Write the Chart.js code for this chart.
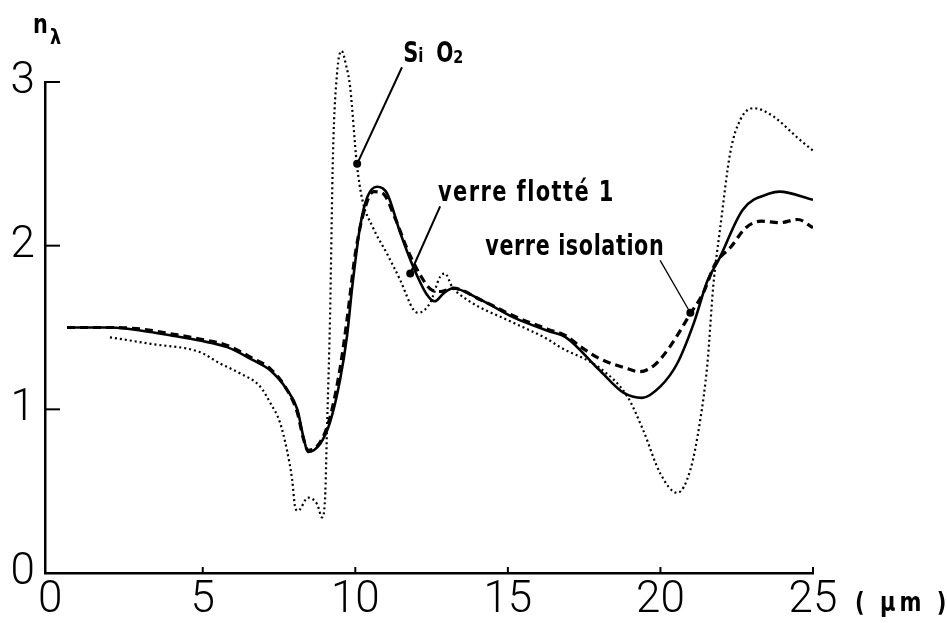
<!DOCTYPE html>
<html>
<head>
<meta charset="utf-8">
<script src="https://cdn.jsdelivr.net/npm/chart.js@4.4.1/dist/chart.umd.min.js"></script>
<style>
  html, body { margin: 0; padding: 0; background: #fff; }
  #wrap { width: 947px; height: 623px; }
</style>
</head>
<body>
<div id="wrap"><canvas id="c" width="947" height="623"></canvas></div>
<script>
// ---- data (wavelength in µm, refractive index n) ----
const xTicks = [0, 5, 10, 15, 20, 25];
const yTicks = [0, 1, 2, 3];

const flotteX = [0.55, 2, 3, 4, 4.9, 5.8, 6.65, 7.2, 7.76, 8.1, 8.3, 8.45, 8.85, 9.17, 9.5, 9.73, 9.9, 10.16, 10.4, 10.71, 11.04, 11.47, 11.9, 12.35, 12.6, 12.9, 13.2, 14.1, 15.2, 16.3, 16.9, 18.0, 18.8, 19.4, 20.0, 20.55, 21.1, 21.55, 21.9, 22.7, 23.6, 23.9, 25.0];
const flotteY = [1.50, 1.50, 1.48, 1.45, 1.42, 1.38, 1.30, 1.24, 1.12, 1.00, 0.83, 0.74, 0.79, 0.92, 1.18, 1.45, 1.75, 2.12, 2.30, 2.36, 2.32, 2.08, 1.87, 1.70, 1.66, 1.71, 1.74, 1.67, 1.56, 1.48, 1.44, 1.24, 1.10, 1.07, 1.14, 1.28, 1.53, 1.79, 1.91, 2.22, 2.32, 2.33, 2.28];

const isolX = [0.55, 2, 3, 4, 4.9, 5.8, 6.65, 7.2, 7.76, 8.1, 8.3, 8.45, 8.85, 9.17, 9.5, 9.73, 10.0, 10.3, 10.6, 10.9, 11.3, 11.7, 12.1, 12.5, 12.8, 13.2, 14.1, 15.2, 16.3, 16.9, 17.4, 18.0, 18.9, 19.3, 19.8, 20.3, 21.0, 21.4, 21.8, 22.3, 22.8, 23.3, 23.9, 24.5, 25.0];
const isolY = [1.50, 1.50, 1.49, 1.46, 1.43, 1.39, 1.31, 1.25, 1.12, 0.98, 0.82, 0.75, 0.80, 0.95, 1.25, 1.55, 1.95, 2.22, 2.33, 2.32, 2.17, 1.98, 1.83, 1.73, 1.72, 1.74, 1.67, 1.57, 1.49, 1.45, 1.38, 1.31, 1.25, 1.23, 1.27, 1.38, 1.59, 1.71, 1.89, 1.99, 2.11, 2.15, 2.14, 2.16, 2.11];

const sio2X = [1.96, 3.3, 4.9, 5.57, 6.22, 6.88, 7.21, 7.53, 7.76, 7.93, 8.03, 8.12, 8.45, 8.75, 8.91, 9.01, 9.07, 9.17, 9.27, 9.4, 9.55, 9.7, 9.83, 10.05, 10.23, 10.58, 11.04, 11.47, 11.9, 12.06, 12.45, 12.78, 12.94, 13.17, 13.66, 15.17, 16.29, 16.71, 18.03, 18.91, 19.44, 19.99, 20.55, 20.98, 21.3, 21.54, 21.73, 21.96, 22.29, 22.62, 23.05, 23.7, 24.49, 25.0];
const sio2Y = [1.44, 1.40, 1.35, 1.28, 1.22, 1.14, 1.04, 0.92, 0.75, 0.57, 0.40, 0.38, 0.46, 0.42, 0.34, 0.46, 0.87, 1.55, 2.57, 3.05, 3.19, 3.10, 2.97, 2.50, 2.28, 2.11, 1.95, 1.79, 1.61, 1.59, 1.65, 1.81, 1.83, 1.75, 1.67, 1.53, 1.43, 1.38, 1.25, 1.08, 0.87, 0.61, 0.49, 0.63, 0.93, 1.28, 1.75, 2.11, 2.57, 2.77, 2.84, 2.79, 2.66, 2.58];

// annotation anchors in data units: [textX, textY, lineStartX, lineStartY, dotX, dotY]
const seriesNames = ['SiO2', 'verre flotté 1', 'verre isolation'];
const sio2Note = [11.57, 3.12, 11.53, 3.09, 10.06, 2.50];
const flotteNote = [12.71, 2.27, 12.78, 2.24, 11.80, 1.83];
const isolNote = [14.26, 1.94, 19.99, 1.91, 20.98, 1.59];
const yTitlePos = [-0.56, 3.30];
const xUnitPos = [26.38, -0.23];
const xUnitText = '( µm )';

const toPts = (xs, ys) => xs.map((x, i) => ({ x: x, y: ys[i] }));

const LABEL_FONT = '"DejaVu Sans", sans-serif';

// draw bold, horizontally condensed text
function condText(ctx, text, x, y, size, sx, spacing) {
  ctx.save();
  ctx.translate(x, y);
  ctx.scale(sx, 1);
  ctx.font = 'bold ' + size + 'px ' + LABEL_FONT;
  ctx.letterSpacing = (spacing / sx) + 'px';
  ctx.textBaseline = 'alphabetic';
  ctx.textAlign = 'left';
  ctx.fillText(text, 0, 0);
  ctx.restore();
}

const decorPlugin = {
  id: 'decor',
  afterDraw(chart) {
    const ctx = chart.ctx;
    const xs = chart.scales.x, ys = chart.scales.y;
    const px = v => xs.getPixelForValue(v);
    const py = v => ys.getPixelForValue(v);
    const area = chart.chartArea;
    ctx.save();
    ctx.strokeStyle = '#000';
    ctx.fillStyle = '#000';
    // inward tick marks
    ctx.lineWidth = 2;
    yTicks.forEach(t => {
      if (t === 0) return;
      ctx.beginPath();
      ctx.moveTo(area.left, py(t));
      ctx.lineTo(area.left + 15, py(t));
      ctx.stroke();
    });
    xTicks.forEach(t => {
      if (t === 0) return;
      ctx.beginPath();
      ctx.moveTo(px(t), area.bottom);
      ctx.lineTo(px(t), area.bottom - 6);
      ctx.stroke();
    });
    // leader lines and dots
    const notes = [[sio2Note, 2], [flotteNote, 2], [isolNote, 1.3]];
    notes.forEach(([n, w]) => {
      ctx.lineWidth = w;
      ctx.beginPath();
      ctx.moveTo(px(n[2]), py(n[3]));
      ctx.lineTo(px(n[4]), py(n[5]));
      ctx.stroke();
      ctx.beginPath();
      ctx.arc(px(n[4]), py(n[5]), 4, 0, Math.PI * 2);
      ctx.fill();
    });
    // SiO2 label
    const x0 = px(sio2Note[0]), y0 = py(sio2Note[1]);
    condText(ctx, 'S', x0, y0, 28, 0.75, 0);
    condText(ctx, 'i', x0 + 15, y0, 20, 0.75, 0);
    condText(ctx, 'O', x0 + 33, y0, 28, 0.72, 0);
    condText(ctx, '2', x0 + 50, y0 + 1, 18, 0.8, 0);
    // glass labels
    condText(ctx, seriesNames[1], px(flotteNote[0]), py(flotteNote[1]), 28, 0.75, 1.4);
    condText(ctx, seriesNames[2], px(isolNote[0]), py(isolNote[1]), 28, 0.74, 0.6);
    // axis titles
    condText(ctx, 'n', px(yTitlePos[0]), py(yTitlePos[1]), 26, 0.8, 0);
    condText(ctx, 'λ', px(yTitlePos[0]) + 17, py(yTitlePos[1]) + 11, 22, 0.8, 0);
    condText(ctx, xUnitText, px(xUnitPos[0]), py(xUnitPos[1]), 27, 0.78, 4);
    ctx.restore();
  }
};

const TICK_FONT = { family: 'Roboto, "DejaVu Sans", sans-serif', size: 44, weight: '300' };

new Chart(document.getElementById('c'), {
  type: 'line',
  data: {
    datasets: [
      { label: seriesNames[0], data: toPts(sio2X, sio2Y), borderColor: '#000', borderWidth: 2.2, borderDash: [2, 3], pointRadius: 0, cubicInterpolationMode: 'monotone', clip: false, fill: false },
      { label: seriesNames[2], data: toPts(isolX, isolY), borderColor: '#000', borderWidth: 3.2, borderDash: [8, 5], pointRadius: 0, cubicInterpolationMode: 'monotone', fill: false },
      { label: seriesNames[1], data: toPts(flotteX, flotteY), borderColor: '#000', borderWidth: 2.6, pointRadius: 0, cubicInterpolationMode: 'monotone', fill: false }
    ]
  },
  options: {
    responsive: false,
    animation: false,
    devicePixelRatio: 1,
    layout: { padding: { top: 82, right: 134, left: 0, bottom: 0 } },
    plugins: { legend: { display: false }, tooltip: { enabled: false } },
    scales: {
      x: {
        type: 'linear', min: -0.17, max: 25,
        afterBuildTicks: s => { s.ticks = xTicks.map(v => ({ value: v })); },
        afterFit: s => { s.height = 50; },
        grid: { display: false, drawTicks: false },
        border: { display: true, color: '#000', width: 2.5 },
        ticks: { color: '#000', font: TICK_FONT, padding: 2, maxRotation: 0, autoSkip: false }
      },
      y: {
        type: 'linear', min: 0, max: 3,
        afterBuildTicks: s => { s.ticks = yTicks.map(v => ({ value: v })); },
        afterFit: s => { s.width = 45; },
        grid: { display: false, drawTicks: false },
        border: { display: true, color: '#000', width: 2.5 },
        ticks: { color: '#000', font: TICK_FONT, padding: 10, autoSkip: false }
      }
    }
  },
  plugins: [decorPlugin]
});
</script>
</body>
</html>
